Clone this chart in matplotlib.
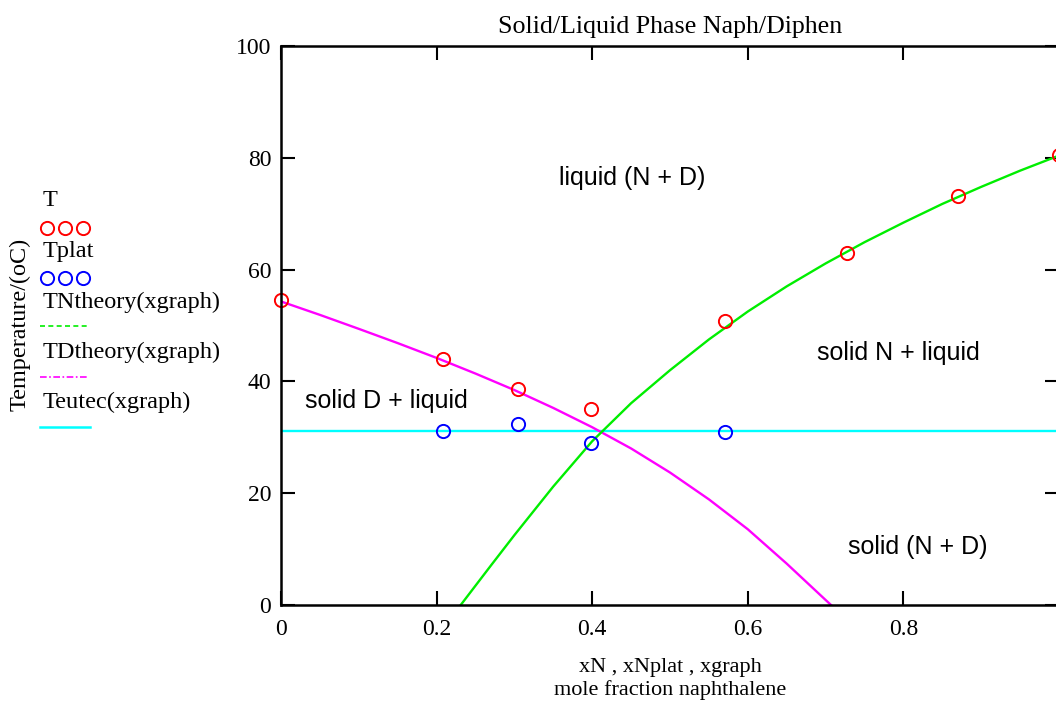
import numpy as np
import matplotlib
matplotlib.use("Agg")
import matplotlib.pyplot as plt
from matplotlib.lines import Line2D

# measured data (mole fraction naphthalene, temperature in oC)
xN = [0.0, 0.208, 0.305, 0.398, 0.571, 0.727, 0.870, 1.0]
T = [54.6, 44.0, 38.6, 35.1, 50.8, 63.0, 73.2, 80.5]

xNplat = [0.208, 0.305, 0.398, 0.571]
Tplat = [31.1, 32.4, 29.0, 30.9]

# theory curves
xN_theory = [0.231, 0.27, 0.30, 0.35, 0.40, 0.45, 0.50, 0.55, 0.60,
             0.65, 0.70, 0.75, 0.80, 0.85, 0.90, 0.95, 1.0]
TN_theory = [0.0, 7.1, 12.5, 21.2, 29.3, 36.1, 42.0, 47.5, 52.5,
             57.0, 61.1, 64.9, 68.4, 71.75, 74.8, 77.7, 80.4]

xD_theory = [0.0, 0.05, 0.10, 0.15, 0.20, 0.25, 0.30, 0.35, 0.40,
             0.45, 0.50, 0.55, 0.60, 0.65, 0.70, 0.707]
TD_theory = [54.3, 51.9, 49.4, 46.85, 44.2, 41.4, 38.45, 35.25, 31.8,
             28.0, 23.7, 18.9, 13.55, 7.4, 0.9, 0.0]

x_eutec = [0.0, 1.0]
T_eutec = [31.1, 31.1]

regions = ["liquid (N + D)", "solid N + liquid", "solid D + liquid", "solid (N + D)"]
region_x = [0.452, 0.793, 0.136, 0.819]
region_y = [76.4, 45.1, 36.5, 10.4]

serif = "Liberation Serif"
sans = "Liberation Sans"

fig = plt.figure(figsize=(10.56, 7.07), dpi=100)
ax = fig.add_axes([281 / 1056, 102 / 707, 778 / 1056, 559 / 707])

ax.plot(x_eutec, T_eutec, color="#00ffff", lw=1.7)
ax.plot(xD_theory, TD_theory, color="#ff00ff", lw=1.7)
ax.plot(xN_theory, TN_theory, color="#00ee00", lw=1.7)
ax.plot(xN, T, "o", ms=9.5, mfc="none", mec="#ff0000", mew=1.4, clip_on=False)
ax.plot(xNplat, Tplat, "o", ms=9.5, mfc="none", mec="#0000ff", mew=1.4)

for label, tx, ty in zip(regions, region_x, region_y):
    ax.text(tx, ty, label, ha="center", va="center", fontsize=18, family=sans)

ax.set_xlim(0, 1.0)
ax.set_ylim(0, 100)
ax.set_xticks([0, 0.2, 0.4, 0.6, 0.8])
ax.set_xticklabels(["0", "0.2", "0.4", "0.6", "0.8"])
ax.set_yticks([0, 20, 40, 60, 80, 100])
ax.tick_params(direction="in", length=10, width=1.5, top=True, right=True,
               labelsize=17)
ax.tick_params(axis="x", pad=10)
ax.tick_params(axis="y", pad=7)
for lab in ax.get_xticklabels() + ax.get_yticklabels():
    lab.set_family(serif)
for sp in ax.spines.values():
    sp.set_linewidth(1.8)

ax.set_title("Solid/Liquid Phase Naph/Diphen", family=serif, fontsize=18.7, pad=9)
ax.set_xlabel("xN , xNplat , xgraph\nmole fraction naphthalene", family=serif,
              fontsize=16, labelpad=13, linespacing=1.2)

fig.text(20 / 1056, 1 - 324 / 707, "Temperature/(oC)", rotation=90, ha="center",
         va="center", family=serif, fontsize=17.4)

# legend drawn in figure pixel coordinates
lg = fig.add_axes([0, 0, 1, 1], facecolor="none")
lg.set_xlim(0, 1056)
lg.set_ylim(707, 0)
lg.axis("off")
leg_text = ["T", "Tplat", "TNtheory(xgraph)", "TDtheory(xgraph)", "Teutec(xgraph)"]
leg_ty = [200, 252, 302, 352, 402]
for s, ty in zip(leg_text, leg_ty):
    lg.text(43, ty, s, ha="left", va="center", family=serif, fontsize=17.5)
lg.plot([47, 65, 83], [228, 228, 228], "o", ms=9.5, mfc="none", mec="#ff0000", mew=1.4)
lg.plot([47, 65, 83], [278, 278, 278], "o", ms=9.5, mfc="none", mec="#0000ff", mew=1.4)
lg.add_line(Line2D([40, 90], [326, 326], color="#00ee00", lw=1.2, ls=(0, (3, 2))))
lg.add_line(Line2D([40, 88], [377, 377], color="#ff00ff", lw=1.2, ls=(0, (4, 1.5, 1, 1.5))))
lg.add_line(Line2D([40, 90], [427, 427], color="#00ffff", lw=1.8))

fig.savefig("out.png", dpi=100)
